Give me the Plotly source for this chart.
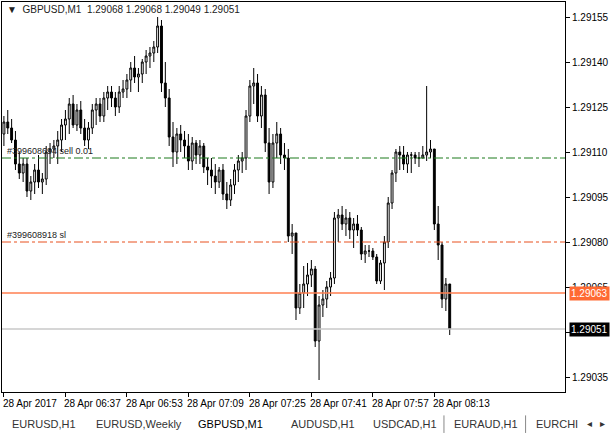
import plotly.graph_objects as go

# M1 bars, 28 Apr 2017 from 06:21
bar_open = [1.29116, 1.29120, 1.29118, 1.29114, 1.29106, 1.29103, 1.29106, 1.29097, 1.29100, 1.29104,
            1.29100, 1.29101, 1.29110, 1.29111, 1.29112, 1.29114, 1.29119, 1.29121, 1.29126, 1.29119,
            1.29124, 1.29118, 1.29114, 1.29118, 1.29124, 1.29126, 1.29122, 1.29128, 1.29130, 1.29128,
            1.29125, 1.29130, 1.29131, 1.29134, 1.29138, 1.29135, 1.29136, 1.29140, 1.29142, 1.29143,
            1.29145, 1.29152, 1.29133, 1.29128, 1.29115, 1.29110, 1.29116, 1.29114, 1.29112, 1.29107,
            1.29113, 1.29109, 1.29112, 1.29105, 1.29104, 1.29102, 1.29100, 1.29104, 1.29096, 1.29094,
            1.29099, 1.29104, 1.29107, 1.29108, 1.29122, 1.29132, 1.29133, 1.29122, 1.29129, 1.29113,
            1.29100, 1.29113, 1.29116, 1.29109, 1.29108, 1.29082, 1.29083, 1.29058, 1.29063, 1.29066,
            1.29069, 1.29071, 1.29047, 1.29059, 1.29061, 1.29065, 1.29068, 1.29088, 1.29089, 1.29086,
            1.29088, 1.29084, 1.29086, 1.29084, 1.29076, 1.29077, 1.29077, 1.29075, 1.29067, 1.29073,
            1.29080, 1.29093, 1.29103, 1.29110, 1.29109, 1.29106, 1.29109, 1.29109, 1.29108, 1.29108,
            1.29109, 1.29110, 1.29111, 1.29086, 1.29079, 1.29061, 1.29066]
bar_high = [1.29122, 1.29124, 1.29121, 1.29117, 1.29110, 1.29108, 1.29108, 1.29102, 1.29106, 1.29109,
            1.29103, 1.29112, 1.29113, 1.29114, 1.29117, 1.29121, 1.29124, 1.29128, 1.29129, 1.29126,
            1.29127, 1.29121, 1.29120, 1.29126, 1.29128, 1.29128, 1.29130, 1.29132, 1.29132, 1.29130,
            1.29132, 1.29134, 1.29136, 1.29140, 1.29142, 1.29138, 1.29141, 1.29144, 1.29145, 1.29147,
            1.29155, 1.29154, 1.29140, 1.29131, 1.29120, 1.29118, 1.29119, 1.29117, 1.29116, 1.29115,
            1.29114, 1.29114, 1.29113, 1.29108, 1.29108, 1.29106, 1.29105, 1.29106, 1.29100, 1.29101,
            1.29106, 1.29109, 1.29110, 1.29124, 1.29134, 1.29138, 1.29136, 1.29132, 1.29131, 1.29118,
            1.29116, 1.29120, 1.29118, 1.29113, 1.29111, 1.29086, 1.29083, 1.29066, 1.29072, 1.29073,
            1.29074, 1.29072, 1.29062, 1.29064, 1.29067, 1.29070, 1.29090, 1.29091, 1.29092, 1.29091,
            1.29090, 1.29088, 1.29089, 1.29085, 1.29079, 1.29079, 1.29078, 1.29076, 1.29074, 1.29082,
            1.29095, 1.29104, 1.29111, 1.29112, 1.29112, 1.29110, 1.29110, 1.29110, 1.29110, 1.29112,
            1.29132, 1.29114, 1.29111, 1.29092, 1.29080, 1.29068, 1.29066]
bar_low = [1.29112, 1.29116, 1.29113, 1.29104, 1.29101, 1.29100, 1.29095, 1.29094, 1.29096, 1.29098,
           1.29096, 1.29099, 1.29106, 1.29108, 1.29106, 1.29110, 1.29114, 1.29116, 1.29118, 1.29117,
           1.29116, 1.29112, 1.29111, 1.29116, 1.29119, 1.29120, 1.29120, 1.29124, 1.29125, 1.29122,
           1.29123, 1.29128, 1.29128, 1.29130, 1.29133, 1.29130, 1.29133, 1.29136, 1.29138, 1.29140,
           1.29143, 1.29130, 1.29125, 1.29112, 1.29105, 1.29106, 1.29110, 1.29108, 1.29104, 1.29104,
           1.29106, 1.29106, 1.29103, 1.29099, 1.29098, 1.29096, 1.29098, 1.29094, 1.29091, 1.29092,
           1.29096, 1.29100, 1.29103, 1.29104, 1.29120, 1.29126, 1.29120, 1.29118, 1.29110, 1.29096,
           1.29098, 1.29108, 1.29106, 1.29104, 1.29080, 1.29076, 1.29054, 1.29056, 1.29058, 1.29062,
           1.29065, 1.29045, 1.29034, 1.29055, 1.29058, 1.29062, 1.29066, 1.29080, 1.29084, 1.29082,
           1.29081, 1.29078, 1.29082, 1.29074, 1.29073, 1.29075, 1.29074, 1.29066, 1.29066, 1.29064,
           1.29078, 1.29091, 1.29100, 1.29104, 1.29104, 1.29103, 1.29103, 1.29106, 1.29105, 1.29108,
           1.29107, 1.29108, 1.29084, 1.29074, 1.29058, 1.29057, 1.29049]
bar_close = [1.29120, 1.29118, 1.29114, 1.29106, 1.29103, 1.29106, 1.29097, 1.29100, 1.29104, 1.29100,
             1.29101, 1.29110, 1.29111, 1.29112, 1.29114, 1.29119, 1.29121, 1.29126, 1.29119, 1.29124,
             1.29118, 1.29114, 1.29118, 1.29124, 1.29126, 1.29122, 1.29128, 1.29130, 1.29128, 1.29125,
             1.29130, 1.29131, 1.29134, 1.29138, 1.29135, 1.29136, 1.29140, 1.29142, 1.29143, 1.29145,
             1.29152, 1.29133, 1.29128, 1.29115, 1.29110, 1.29116, 1.29114, 1.29112, 1.29107, 1.29113,
             1.29109, 1.29112, 1.29105, 1.29104, 1.29102, 1.29100, 1.29104, 1.29096, 1.29094, 1.29099,
             1.29104, 1.29107, 1.29108, 1.29122, 1.29132, 1.29133, 1.29122, 1.29129, 1.29113, 1.29100,
             1.29113, 1.29116, 1.29109, 1.29108, 1.29082, 1.29083, 1.29058, 1.29063, 1.29066, 1.29069,
             1.29071, 1.29047, 1.29059, 1.29061, 1.29065, 1.29068, 1.29088, 1.29089, 1.29086, 1.29088,
             1.29084, 1.29086, 1.29084, 1.29076, 1.29077, 1.29077, 1.29075, 1.29067, 1.29073, 1.29080,
             1.29093, 1.29103, 1.29110, 1.29109, 1.29106, 1.29109, 1.29109, 1.29108, 1.29108, 1.29109,
             1.29110, 1.29111, 1.29086, 1.29079, 1.29061, 1.29066, 1.29051]

time_labels = ["28 Apr 2017", "28 Apr 06:37", "28 Apr 06:53", "28 Apr 07:09",
               "28 Apr 07:25", "28 Apr 07:41", "28 Apr 07:57", "28 Apr 08:13"]
label_bars = [0, 16, 32, 48, 64, 80, 96, 112]
price_ticks = [1.29155, 1.29140, 1.29125, 1.29110, 1.29095, 1.29080, 1.29065, 1.29050, 1.29035]

order_sell = 1.29108
order_sl = 1.29080
bid_price = 1.29051
ask_price = 1.29063
tabs = ["EURUSD,H1", "EURUSD,Weekly", "GBPUSD,M1", "AUDUSD,H1", "USDCAD,H1", "EURAUD,H1", "EURCHI"]

FONT = "Liberation Sans"
x = list(range(len(bar_open)))

fig = go.Figure(go.Candlestick(
    x=x, open=bar_open, high=bar_high, low=bar_low, close=bar_close,
    increasing=dict(fillcolor="white", line=dict(color="black", width=1)),
    decreasing=dict(fillcolor="black", line=dict(color="black", width=1)),
    whiskerwidth=0, showlegend=False, hoverinfo="skip"))

# order / price lines
for lvl, col, dash, w in [(order_sell, "#1c7a1c", "dashdot", 1), (order_sl, "#e8501e", "dashdot", 1),
                          (ask_price, "#ff7f50", "solid", 1.5), (bid_price, "#c8c8c8", "solid", 1.5)]:
    fig.add_hline(y=lvl, line=dict(color=col, dash=dash, width=w))

ann = [
    dict(x=0.005, y=order_sell, xref="paper", yref="y", text="#399608694 sell 0.01", showarrow=False,
         xanchor="left", yanchor="bottom", font=dict(size=9, color="#222")),
    dict(x=0.005, y=order_sl, xref="paper", yref="y", text="#399608918 sl", showarrow=False,
         xanchor="left", yanchor="bottom", font=dict(size=9, color="#222")),
    dict(x=1.0, y=ask_price, xref="paper", yref="y", xshift=4, text="1.29063", showarrow=False, xanchor="left",
         bgcolor="#ff6a33", font=dict(size=10, color="white"), borderpad=1),
    dict(x=1.0, y=bid_price, xref="paper", yref="y", xshift=4, text="1.29051", showarrow=False, xanchor="left",
         bgcolor="black", font=dict(size=10, color="white"), borderpad=1),
    dict(x=0.005, y=1.0, xref="paper", yref="paper", text="▼  GBPUSD,M1  1.29068 1.29068 1.29049 1.29051",
         showarrow=False, xanchor="left", yanchor="top", font=dict(size=10, color="#222")),
]
for b, t in zip(label_bars, time_labels):
    ann.append(dict(x=b, y=0, xref="x", yref="paper", yshift=-4, xshift=-3, text=t, showarrow=False,
                    xanchor="left", yanchor="top", font=dict(size=10, color="black")))

# tab strip
shapes = [dict(type="rect", xref="paper", yref="paper", x0=-0.01, x1=1.1, y0=-0.115, y1=-0.045,
               fillcolor="#f0f0f0", line=dict(width=0), layer="below")]
tab_x = [0.0, 0.148, 0.33, 0.495, 0.64, 0.785, 0.93]
for i, (tx, name) in enumerate(zip(tab_x, tabs)):
    if name == "GBPUSD,M1":
        shapes.append(dict(type="rect", xref="paper", yref="paper", x0=tx + 0.005, x1=tab_x[i + 1] - 0.005,
                           y0=-0.12, y1=-0.048, fillcolor="white", line=dict(color="#999", width=1)))
    ann.append(dict(x=tx + 0.015, y=-0.082, xref="paper", yref="paper", text=name, showarrow=False,
                    xanchor="left", yanchor="middle", font=dict(size=11, color="#333" if name != "GBPUSD,M1" else "black")))
    if i < len(tabs) - 1 and name != "GBPUSD,M1" and tabs[i + 1] != "GBPUSD,M1":
        shapes.append(dict(type="line", xref="paper", yref="paper", x0=tab_x[i + 1], x1=tab_x[i + 1],
                           y0=-0.105, y1=-0.06, line=dict(color="#888", width=1)))
ann.append(dict(x=1.035, y=-0.082, xref="paper", yref="paper", text="◂   ▸", showarrow=False,
                xanchor="left", yanchor="middle", font=dict(size=10, color="#333")))

fig.update_layout(
    width=613, height=436, margin=dict(l=2, r=48, t=2, b=44, autoexpand=False),
    paper_bgcolor="white", plot_bgcolor="white",
    font=dict(family=FONT, size=10, color="black"),
    annotations=ann, shapes=shapes,
    xaxis=dict(range=[-0.5, 146], rangeslider=dict(visible=False), showgrid=False, zeroline=False,
               tickvals=label_bars, ticktext=[""] * len(label_bars), ticks="outside", ticklen=4,
               tickcolor="black", showline=True, linecolor="black", mirror=True, automargin=False),
    yaxis=dict(range=[1.29030, 1.29160], side="right", tickvals=price_ticks,
               ticktext=[f"{p:.5f}" for p in price_ticks], ticks="outside", ticklen=4, tickcolor="black",
               tickfont=dict(size=10), showgrid=False, zeroline=False, showline=True, linecolor="black",
               mirror=True, automargin=False),
)

fig.write_html("out.html", config={"displayModeBar": False},
               post_script="document.body.style.margin='0';document.body.style.overflow='hidden';")
